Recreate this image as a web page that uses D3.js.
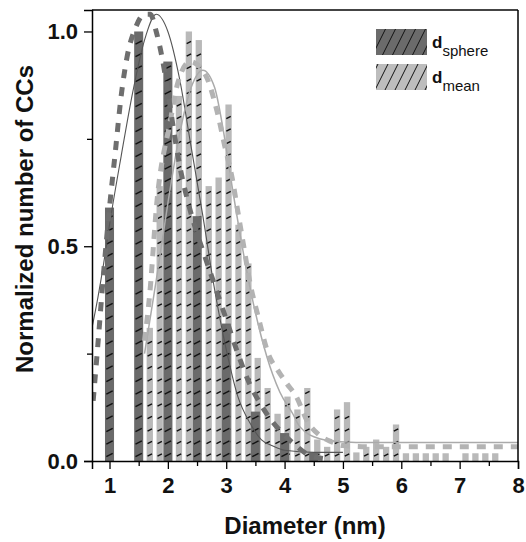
<!DOCTYPE html>
<html>
<head>
<meta charset="utf-8">
<script src="https://cdn.jsdelivr.net/npm/d3@7"></script>
<style>
  body { margin: 0; background: #fff; }
  text { font-family: "Liberation Sans", Arial, sans-serif; }
</style>
</head>
<body>
<div id="chart"></div>
<script>
// d_sphere histogram (dark)
var sphereX = [1.0, 1.5, 2.0, 2.5, 3.0, 3.5, 4.0, 4.5];
var sphereY = [0.59, 1.0, 0.93, 0.57, 0.32, 0.115, 0.065, 0.02];

// d_mean histogram (light)
var meanX = [1.69, 1.86, 2.02, 2.19, 2.36, 2.53, 2.70, 2.87, 3.04, 3.21, 3.38, 3.54,
    3.71, 3.88, 4.05, 4.22, 4.39, 4.56, 4.73, 4.90, 5.07, 5.23, 5.40, 5.57,
    5.74, 5.91, 6.08, 6.25, 6.42, 6.59, 6.76, 6.93, 7.10, 7.27, 7.44, 7.61];
var meanY = [0.31, 0.64, 0.72, 0.85, 1.0, 0.98, 0.64, 0.66, 0.83, 0.55, 0.46, 0.24,
    0.17, 0.11, 0.15, 0.12, 0.17, 0.05, 0.033, 0.12, 0.137, 0.02, 0.033, 0.05,
    0.033, 0.085, 0.018, 0.018, 0.018, 0.018, 0.018, 0, 0.018, 0.018, 0.018, 0.018];

// fitted curves
var sphereFitSolid = [[0.7, 0.31], [0.8, 0.38], [0.9, 0.46], [1.0, 0.55], [1.2, 0.71], [1.4, 0.86],
    [1.6, 0.98], [1.8, 1.04], [2.0, 1.0], [2.2, 0.89], [2.4, 0.73], [2.6, 0.57], [2.8, 0.40],
    [3.0, 0.26], [3.2, 0.15], [3.4, 0.09], [3.6, 0.05], [3.8, 0.035], [4.0, 0.025], [4.5, 0.02], [5.0, 0.02]];
var sphereFitDash = [[0.72, 0.14], [0.8, 0.27], [0.9, 0.44], [1.0, 0.59], [1.1, 0.72], [1.2, 0.85],
    [1.3, 0.94], [1.45, 1.01], [1.6, 1.04], [1.7, 1.04], [1.8, 1.0], [1.9, 0.94], [2.0, 0.86],
    [2.1, 0.77], [2.2, 0.69], [2.35, 0.6], [2.5, 0.53], [2.65, 0.47], [2.8, 0.41], [3.0, 0.33],
    [3.2, 0.25], [3.4, 0.18], [3.6, 0.13], [3.8, 0.09], [4.0, 0.06], [4.2, 0.035], [4.4, 0.015],
    [4.6, 0.007], [4.7, 0.005]];
var meanFitSolid = [[1.6, 0.25], [1.8, 0.42], [2.0, 0.6], [2.2, 0.76], [2.4, 0.87], [2.6, 0.91],
    [2.8, 0.87], [2.95, 0.77], [3.1, 0.64], [3.3, 0.48], [3.46, 0.37], [3.6, 0.29], [3.8, 0.2],
    [3.92, 0.16], [4.14, 0.11], [4.26, 0.08], [4.6, 0.052], [4.95, 0.045], [5.5, 0.043], [8.0, 0.043]];
var meanFitDash = [[1.6, 0.28], [1.69, 0.39], [1.81, 0.6], [2.04, 0.79], [2.17, 0.88], [2.38, 0.93],
    [2.64, 0.9], [2.84, 0.816], [2.98, 0.73], [3.1, 0.66], [3.2, 0.58], [3.3, 0.5], [3.4, 0.42],
    [3.55, 0.335], [3.72, 0.25], [3.89, 0.21], [4.04, 0.18], [4.2, 0.15], [4.4, 0.09], [4.6, 0.06],
    [4.8, 0.045], [5.0, 0.036], [5.5, 0.033], [8.0, 0.033]];

var xTicks = [1, 2, 3, 4, 5, 6, 7, 8];
var xMinor = [1.5, 2.5, 3.5, 4.5, 5.5, 6.5, 7.5];
var yTicks = [0, 0.5, 1.0];
var yMinor = [0.25, 0.75];

var W = 526, H = 542;
var margin = { top: 10, right: 8, bottom: 81, left: 92 };

var svg = d3.select('#chart').append('svg').attr('width', W).attr('height', H);

var x = d3.scaleLinear().domain([0.7, 8]).range([margin.left, W - margin.right]);
var y = d3.scaleLinear().domain([0, 1.05]).range([H - margin.bottom, margin.top]);

var defs = svg.append('defs');
defs.append('clipPath').attr('id', 'plotClip').append('rect')
    .attr('x', margin.left).attr('y', margin.top)
    .attr('width', W - margin.left - margin.right).attr('height', H - margin.top - margin.bottom);

var hatch = defs.append('pattern').attr('id', 'hatch').attr('patternUnits', 'userSpaceOnUse')
    .attr('width', 10).attr('height', 20);
hatch.append('path').attr('d', 'M0,20L10,0M-10,20L0,0M10,20L20,0')
    .attr('stroke', '#111').attr('stroke-width', 1);

var plot = svg.append('g').attr('clip-path', 'url(#plotClip)');

function drawBars(xs, ys, w, fill) {
    var g = plot.append('g');
    for (let i = 0; i < xs.length; i++) {
        if (ys[i] <= 0) continue;
        let x0 = x(xs[i] - w / 2), x1 = x(xs[i] + w / 2);
        let top = y(ys[i]), base = y(0);
        let bw = x1 - x0;
        g.append('rect').attr('x', x0).attr('y', top).attr('width', bw).attr('height', base - top)
            .attr('fill', fill);
        // short hatch strokes
        let cx = (x0 + x1) / 2;
        for (let yy = base - 6; yy > top + 4; yy -= 12.5) {
            g.append('line')
                .attr('x1', cx - bw * 0.35).attr('y1', yy + bw * 0.18)
                .attr('x2', cx + bw * 0.35).attr('y2', yy - bw * 0.18)
                .attr('stroke', '#111').attr('stroke-width', 1.4);
        }
    }
}

drawBars(meanX, meanY, 0.108, '#b9b9b9');
drawBars(sphereX, sphereY, 0.155, '#6a6a6a');

var line = d3.line().x(d => x(d[0])).y(d => y(d[1])).curve(d3.curveMonotoneX);

plot.append('path').datum(sphereFitSolid).attr('d', line)
    .attr('fill', 'none').attr('stroke', '#555').attr('stroke-width', 1.1);
plot.append('path').datum(meanFitSolid).attr('d', line)
    .attr('fill', 'none').attr('stroke', '#aaa').attr('stroke-width', 1.5);
plot.append('path').datum(meanFitDash).attr('d', line)
    .attr('fill', 'none').attr('stroke', '#b3b3b3').attr('stroke-width', 5)
    .attr('stroke-dasharray', '9,8');
plot.append('path').datum(sphereFitDash).attr('d', line)
    .attr('fill', 'none').attr('stroke', '#6e6e6e').attr('stroke-width', 5)
    .attr('stroke-dasharray', '9,9');

// frame
var x0 = margin.left, x1 = W - margin.right, y0 = margin.top, y1 = H - margin.bottom;
svg.append('line').attr('x1', x0).attr('x2', x1).attr('y1', y0).attr('y2', y0)
    .attr('stroke', '#444').attr('stroke-width', 2);
svg.append('line').attr('x1', x1).attr('x2', x1).attr('y1', y0).attr('y2', y1)
    .attr('stroke', '#000').attr('stroke-width', 1.5);

// axes
var xAxis = d3.axisBottom(x).tickValues(xTicks).tickSize(8).tickPadding(8).tickFormat(d3.format('d'));
svg.append('g').attr('transform', `translate(0,${y1})`).call(xAxis);
svg.append('g').attr('transform', `translate(0,${y1})`)
    .call(d3.axisBottom(x).tickValues(xMinor).tickSize(5).tickFormat(''))
    .select('.domain').remove();

var yAxis = d3.axisLeft(y).tickValues(yTicks).tickSize(8).tickPadding(6).tickFormat(d3.format('.1f'));
svg.append('g').attr('transform', `translate(${x0},0)`).call(yAxis);
svg.append('g').attr('transform', `translate(${x0},0)`)
    .call(d3.axisLeft(y).tickValues(yMinor).tickSize(5).tickFormat(''))
    .select('.domain').remove();

svg.selectAll('.domain').attr('stroke', '#000').attr('stroke-width', 1.5);
svg.selectAll('.tick line').attr('stroke', '#000').attr('stroke-width', 1.3);
svg.selectAll('.tick text').attr('font-size', 22).attr('font-weight', 'bold')
    .attr('font-family', '"Liberation Sans", Arial, sans-serif').attr('fill', '#111');

// axis titles
svg.append('text').attr('x', (x0 + x1) / 2).attr('y', 534).attr('text-anchor', 'middle')
    .attr('font-size', 24).attr('font-weight', 'bold').attr('fill', '#111').text('Diameter (nm)');
svg.append('text').attr('transform', 'translate(33,219) rotate(-90)').attr('text-anchor', 'middle')
    .attr('font-size', 24).attr('font-weight', 'bold').attr('fill', '#111').text('Normalized number of CCs');

// legend
var legend = [
    { fill: '#6b6b6b', sub: 'sphere', y: 29 },
    { fill: '#bdbdbd', sub: 'mean', y: 64 }
];
legend.forEach(function (d) {
    svg.append('rect').attr('x', 376).attr('y', d.y).attr('width', 51).attr('height', 26).attr('fill', d.fill);
    svg.append('rect').attr('x', 376).attr('y', d.y).attr('width', 51).attr('height', 26).attr('fill', 'url(#hatch)');
    let t = svg.append('text').attr('x', 432).attr('y', d.y + 19).attr('fill', '#111');
    t.append('tspan').attr('font-size', 17).attr('font-weight', 'bold').text('d');
    t.append('tspan').attr('font-size', 15).attr('dy', 8).text(d.sub);
});
</script>
</body>
</html>
